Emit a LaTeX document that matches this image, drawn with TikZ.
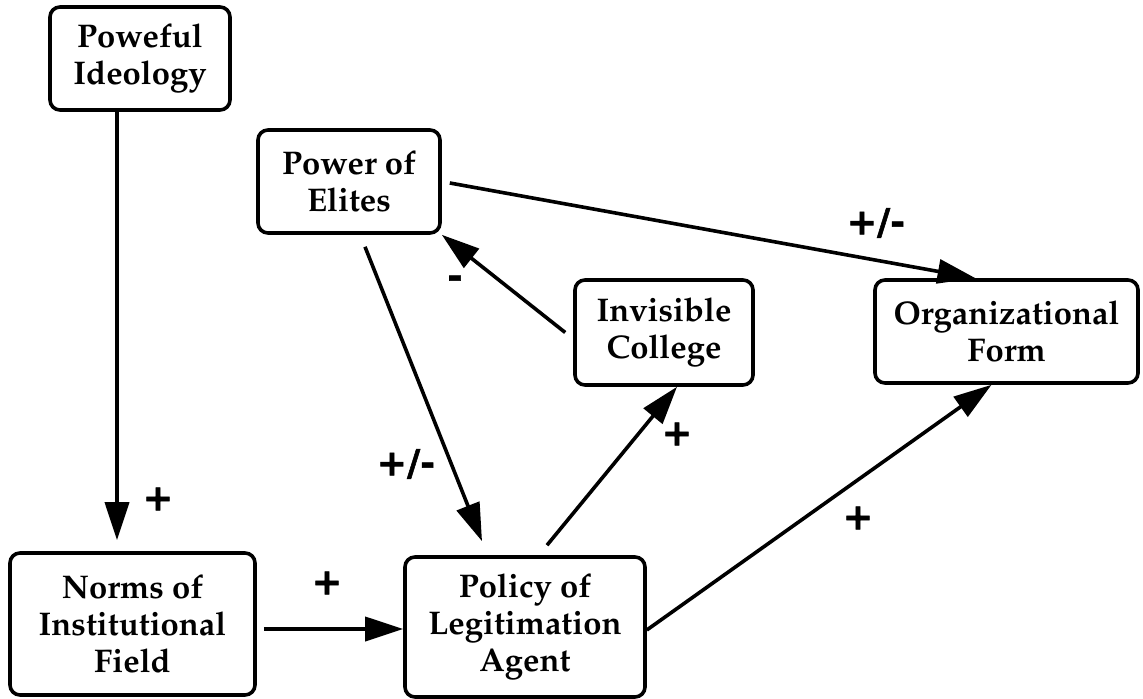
\documentclass[tikz,border=0pt]{standalone}
\usepackage[T1]{fontenc}
\usepackage{fontspec}
\newfontfamily\signfont{DejaVu Sans}[FakeBold=1.5]
\usetikzlibrary{arrows.meta,calc}
\newcommand{\boxfont}{\fontencoding{T1}\fontfamily{ppl}\bfseries\fontsize{16.4}{18.5}\selectfont}
\begin{document}
\begin{tikzpicture}[x=0.5pt,y=-0.5pt,
  box/.style={draw,line width=1.8pt,rounded corners=5pt,align=center,inner sep=0pt,
              font=\boxfont},
  link/.style={line width=1.8pt,-{Triangle[length=19pt,width=12pt]}},
  sign/.style={font=\signfont\bfseries\fontsize{18}{18}\selectfont,inner sep=0pt}]
\useasboundingbox (0,0) rectangle (1143,699);

% boxes
\node[box,minimum width=90pt,minimum height=51.5pt]  (ideo)    at (140,58.5)   {Poweful\\Ideology};
\node[box,minimum width=91pt,minimum height=51.5pt]  (elites)  at (349,181.5)  {Power of\\Elites};
\node[box,minimum width=89pt,minimum height=52.5pt]  (college) at (664,332.5)  {Invisible\\College};
\node[box,minimum width=131.5pt,minimum height=51.5pt] (org)   at (1006.5,331.5) {Organizational\\Form};
\node[box,minimum width=122.5pt,minimum height=71pt] (norms)   at (132.5,624)  {Norms of\\Institutional\\Field};
\node[box,minimum width=120pt,minimum height=70pt]   (policy)  at (525,627)    {Policy of\\Legitimation\\Agent};

% connectors
\draw[link] ([xshift=-11.5pt]ideo.south) -- ([xshift=-7.75pt,yshift=5.5pt]norms.north);
\draw[link] ([yshift=-2.5pt,xshift=3.5pt]norms.east) -- ([yshift=-2.5pt]norms.east -| policy.west);
\draw[link] ($(elites.south)+(16,12)$) -- ($(policy.north)+(-43,-14)$);
\draw[link] ($(policy.north)+(22,-10)$) -- ($(college.south)+(13,0)$);
\draw[link] ($(college.west)+(-8,0)$) -- (elites.south east);
\draw[link] ($(elites.east)+(8,1.5)$) -- ($(org.north)+(-31,0)$);
\draw[link] ($(policy.east)+(0,3)$) -- ($(org.south)+(-15,0)$);

% signs
\node[sign] (s1) at (158,499) {+};
\node[sign] (s2) at (327,583) {+};
\node[sign] (s3) at (406,464) {+/-};
\node[sign] (s4) at (677,434) {+};
\node[sign] (s5) at (858,518) {+};
\node[sign] (s6) at (455,282) {-};
\node[sign] (s7) at (876,223) {+/-};
\end{tikzpicture}
\end{document}
